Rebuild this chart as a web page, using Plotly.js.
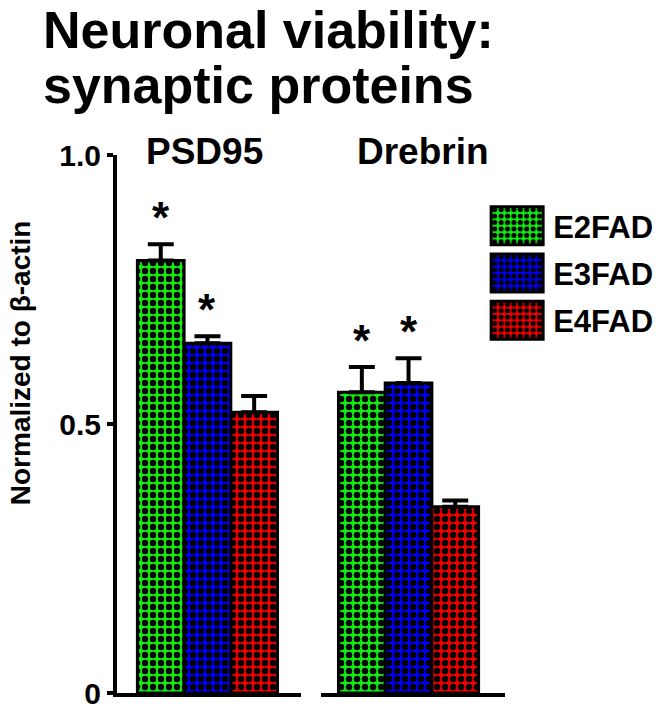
<!DOCTYPE html>
<html>
<head>
<meta charset="utf-8">
<script src="https://cdn.plot.ly/plotly-3.0.1.min.js"></script>
<style>
  body { margin: 0; background: #fff; }
</style>
</head>
<body>
<div id="chart"></div>
<script>
var groups = ['PSD95', 'Drebrin'];
var genotypes = ['E2FAD', 'E3FAD', 'E4FAD'];
var colors = ['#11ee11', '#0000ee', '#ee0000'];

var psd95Mean = [0.804, 0.650, 0.522];
var psd95Sem = [0.030, 0.013, 0.030];
var psd95Sig = ['*', '*', ''];

var drebrinMean = [0.559, 0.576, 0.346];
var drebrinSem = [0.047, 0.046, 0.012];
var drebrinSig = ['*', '*', ''];

var yTicks = [0, 0.5, 1.0];
var yTickText = ['0', '0.5', '1.0'];

var FONT = 'Liberation Sans, Arial, sans-serif';
var bargap = 0.3;

var means = [psd95Mean, drebrinMean];
var sems = [psd95Sem, drebrinSem];
var sigs = [psd95Sig, drebrinSig];
var axes = ['x', 'x2'];
var labelShift = [-3, 14];

var data = [];
for (var g = 0; g < groups.length; g++) {
  for (var i = 0; i < genotypes.length; i++) {
    data.push({
      type: 'bar',
      name: genotypes[i],
      legendgroup: genotypes[i],
      showlegend: g === 0,
      x: [groups[g]],
      y: [means[g][i]],
      xaxis: axes[g],
      yaxis: 'y',
      marker: {
        color: colors[i],
        line: {color: 'black', width: 3},
        pattern: {shape: '.', fgcolor: 'black', bgcolor: colors[i], size: 8, solidity: 0.5}
      },
      error_y: {
        type: 'data', symmetric: false,
        array: [sems[g][i]], arrayminus: [0],
        color: 'black', thickness: 4, width: 13
      },
      hoverinfo: 'skip'
    });
  }
}

var annotations = [];
// asterisks above significant bars
var slot = (1 - bargap) / genotypes.length;
for (var g = 0; g < groups.length; g++) {
  for (var i = 0; i < genotypes.length; i++) {
    if (!sigs[g][i]) continue;
    annotations.push({
      xref: axes[g], yref: 'y',
      x: (i - 1) * slot, y: means[g][i] + sems[g][i],
      yanchor: 'bottom', yshift: 0,
      text: sigs[g][i], showarrow: false,
      font: {family: FONT, size: 44, color: 'black', weight: 'bold'}
    });
  }
  // group label on top
  annotations.push({
    xref: axes[g], yref: 'y',
    x: groups[g], y: 1.0, yanchor: 'middle', yshift: 4, xshift: labelShift[g],
    text: groups[g], showarrow: false,
    font: {family: FONT, size: 37, color: 'black', weight: 'bold'}
  });
}
// two-line title
annotations.push({
  xref: 'paper', yref: 'paper', x: -0.195, y: 1.29, xanchor: 'left', yanchor: 'top',
  text: 'Neuronal viability:', showarrow: false,
  font: {family: FONT, size: 52, color: 'black', weight: 'bold'}
});
annotations.push({
  xref: 'paper', yref: 'paper', x: -0.195, y: 1.187, xanchor: 'left', yanchor: 'top',
  text: 'synaptic proteins', showarrow: false,
  font: {family: FONT, size: 52, color: 'black', weight: 'bold'}
});
// y axis title
annotations.push({
  xref: 'paper', yref: 'paper', x: -0.25, y: 0.613, xanchor: 'center', yanchor: 'middle',
  textangle: -90,
  text: 'Normalized to β-actin', showarrow: false,
  font: {family: FONT, size: 28, color: 'black', weight: 'bold'}
});

var xBase = {
  type: 'category',
  showline: true, linewidth: 4, linecolor: 'black',
  showticklabels: false, ticks: '', showgrid: false, zeroline: false,
  anchor: 'y', fixedrange: true
};

var layout = {
  width: 670,
  height: 711,
  margin: {l: 117, r: 163, t: 155, b: 18, pad: 0},
  paper_bgcolor: 'white',
  plot_bgcolor: 'white',
  showlegend: true,
  barmode: 'group',
  bargap: bargap,
  bargroupgap: 0,
  xaxis: Object.assign({}, xBase, {domain: [0, 0.474], range: [-0.452, 0.467]}),
  xaxis2: Object.assign({}, xBase, {domain: [0.526, 1], range: [-0.437, 0.482]}),
  yaxis: {
    range: [0, 1.0],
    tickvals: yTicks,
    ticktext: yTickText,
    showline: true, linewidth: 4, linecolor: 'black',
    ticks: 'outside', ticklen: 6, tickwidth: 4, tickcolor: 'black',
    ticklabeloverflow: 'allow',
    showgrid: false, zeroline: false,
    tickfont: {family: FONT, size: 30, color: 'black', weight: 'bold'},
    fixedrange: true
  },
  legend: {
    x: 0.9385, y: 0.918, xanchor: 'left', yanchor: 'top',
    traceorder: 'grouped', tracegroupgap: 4,
    itemwidth: 62,
    bgcolor: 'rgba(0,0,0,0)',
    font: {family: FONT, size: 31, color: 'black', weight: 'bold'}
  },
  annotations: annotations
};

Plotly.newPlot('chart', data, layout, {displayModeBar: false, staticPlot: true}).then(function (gd) {
  // enlarge legend swatches to match the big boxes
  var paths = gd.querySelectorAll('.legend .legendpoints path');
  paths.forEach(function (p) {
    p.setAttribute('d', 'M26,19H-26V-19H26Z');
  });
});
</script>
</body>
</html>
